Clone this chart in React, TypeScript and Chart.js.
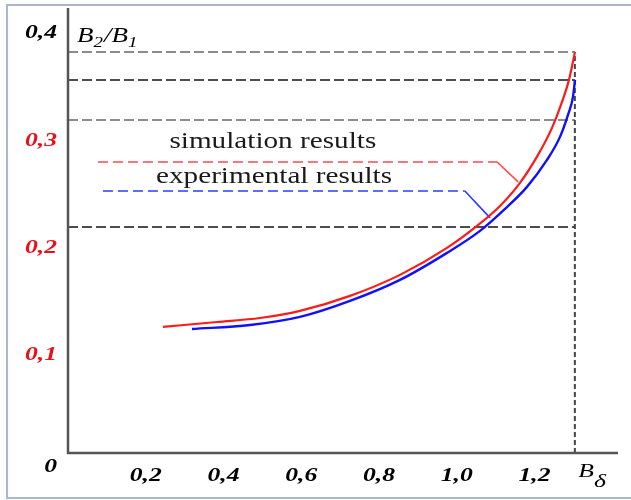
import React, { useEffect, useRef } from "react";
import { Chart, registerables } from "chart.js";

Chart.register(...registerables);

// ---- data ----
const xTickValues = [0.2, 0.4, 0.6, 0.8, 1.0, 1.2];
const xTickLabels = ["0,2", "0,4", "0,6", "0,8", "1,0", "1,2"];
const yTickValues = [0, 0.1, 0.2, 0.3, 0.4];
const yTickLabels = ["0", "0,1", "0,2", "0,3", "0,4"];
const yTickColors = ["#000000", "#e8101a", "#e8101a", "#e8101a", "#000000"];

const simX = [0.2444, 0.3833, 0.494, 0.5969, 0.7255, 0.8541, 0.9751, 1.0522, 1.1114, 1.1629, 1.2092, 1.2452, 1.2709, 1.2889, 1.3044];
const simY = [0.1265, 0.1311, 0.1348, 0.1414, 0.1554, 0.175, 0.2001, 0.2206, 0.2392, 0.2607, 0.2868, 0.312, 0.3362, 0.3567, 0.3828];
const expX = [0.319, 0.4682, 0.5969, 0.7255, 0.8541, 0.9751, 1.06, 1.1243, 1.1809, 1.2323, 1.2658, 1.2863, 1.2992, 1.3044];
const expY = [0.1246, 0.1283, 0.1358, 0.1507, 0.1703, 0.1955, 0.216, 0.2365, 0.257, 0.2821, 0.3036, 0.3241, 0.3409, 0.3567];

const refLevels = [0.3828, 0.3567, 0.3194, 0.2197];
const refColors = ["#8c8c8c", "#4d4d4d", "#8c8c8c", "#4d4d4d"];
const refEndX = 1.304;

const simLeaderX = [0.077, 1.104, 1.158];
const simLeaderY = [0.2802, 0.2802, 0.2616];
const expLeaderX = [0.09, 1.021, 1.086];
const expLeaderY = [0.2532, 0.2532, 0.2281];

const legendTexts = ["simulation results", "experimental results"];
const legendX = [0.527, 0.53];
const legendY = [0.2933, 0.2607];

const xMin = 0;
const xMax = 1.415;
const yMin = 0.009;
const yMax = 0.4237;

const pts = (xs: number[], ys: number[]) => xs.map((x, i) => ({ x, y: ys[i] }));

function stretchText(ctx: CanvasRenderingContext2D, text: string, x: number, y: number, sx: number, align: CanvasTextAlign) {
  ctx.save();
  ctx.translate(x, y);
  ctx.scale(sx, 1);
  ctx.textAlign = align;
  ctx.fillText(text, 0, 0);
  ctx.restore();
}

const SERIF = "'Liberation Serif', 'Times New Roman', serif";

const decorPlugin = {
  id: "decor",
  beforeDatasetsDraw(chart: any) {
    const { ctx } = chart;
    ctx.save();
    ctx.strokeStyle = "#a9b7cf";
    ctx.lineWidth = 2;
    ctx.strokeRect(7, 5, 660, 493);
    ctx.restore();
  },
  afterDatasetsDraw(chart: any) {
    const { ctx, chartArea, scales } = chart;
    const xs = scales.x;
    const ys = scales.y;
    ctx.save();
    // axes
    ctx.strokeStyle = "#555555";
    ctx.lineWidth = 2.5;
    ctx.beginPath();
    ctx.moveTo(chartArea.left, chartArea.top);
    ctx.lineTo(chartArea.left, chartArea.bottom);
    ctx.lineTo(chartArea.right, chartArea.bottom);
    ctx.stroke();

    // x tick labels
    ctx.fillStyle = "#000";
    ctx.textBaseline = "middle";
    ctx.font = `bold italic 19px ${SERIF}`;
    xTickValues.forEach((v, i) => {
      stretchText(ctx, xTickLabels[i], xs.getPixelForValue(v), chartArea.bottom + 23, 1.35, "center");
    });
    // y tick labels
    yTickValues.forEach((v, i) => {
      ctx.fillStyle = yTickColors[i];
      stretchText(ctx, yTickLabels[i], chartArea.left - 11, ys.getPixelForValue(v) + (i === 0 ? 4 : 0), 1.35, "right");
    });

    // axis titles
    ctx.fillStyle = "#000";
    ctx.textBaseline = "alphabetic";
    const drawTitle = (parts: { t: string; size: number; dy: number }[], x: number, y: number) => {
      let cx = x;
      parts.forEach((p) => {
        ctx.font = `italic ${p.size}px ${SERIF}`;
        const w = ctx.measureText(p.t).width * 1.35;
        stretchText(ctx, p.t, cx, y + p.dy, 1.35, "left");
        cx += w + (p.dy ? 1 : 0);
      });
    };
    drawTitle(
      [
        { t: "B", size: 20, dy: 0 },
        { t: "2", size: 14, dy: 5 },
        { t: "/", size: 20, dy: 0 },
        { t: "B", size: 20, dy: 0 },
        { t: "1", size: 14, dy: 5 },
      ],
      chartArea.left + 9,
      chartArea.top + 34
    );
    drawTitle(
      [
        { t: "B", size: 19, dy: 0 },
        { t: "δ", size: 19, dy: 10 },
      ],
      xs.getPixelForValue(1.3) + 5,
      chartArea.bottom + 24
    );

    // legend texts
    ctx.font = `23px ${SERIF}`;
    ctx.fillStyle = "#1a1a1a";
    legendTexts.forEach((t, i) => {
      stretchText(ctx, t, xs.getPixelForValue(legendX[i]), ys.getPixelForValue(legendY[i]), 1.27, "center");
    });
    ctx.restore();
  },
};

export default function App() {
  const ref = useRef<HTMLCanvasElement | null>(null);
  useEffect(() => {
    if (!ref.current) return;
    const refSets = refLevels.map((lv, i) => ({
      data: pts([0, refEndX], [lv, lv]),
      borderColor: refColors[i],
      borderWidth: 2,
      borderDash: [10, 4],
      pointRadius: 0,
      order: 5,
    }));
    const chart = new Chart(ref.current, {
      type: "line",
      data: {
        datasets: [
          {
            data: pts(simX, simY),
            borderColor: "#ff1a1a",
            borderWidth: 2.2,
            pointRadius: 0,
            cubicInterpolationMode: "monotone",
            order: 0,
          },
          {
            data: pts(expX, expY),
            borderColor: "#1010ff",
            borderWidth: 2.4,
            pointRadius: 0,
            cubicInterpolationMode: "monotone",
            order: 1,
          },
          {
            data: pts(simLeaderX, simLeaderY),
            borderColor: "#ff4a4a",
            borderWidth: 1.6,
            pointRadius: 0,
            segment: { borderDash: (c: any) => (c.p0DataIndex === 0 ? [10, 5] : []) },
            order: 2,
          },
          {
            data: pts(expLeaderX, expLeaderY),
            borderColor: "#2a3cff",
            borderWidth: 1.6,
            pointRadius: 0,
            segment: { borderDash: (c: any) => (c.p0DataIndex === 0 ? [10, 5] : []) },
            order: 2,
          },
          ...refSets,
          {
            data: pts([refEndX, refEndX], [yMin, refLevels[0]]),
            borderColor: "#444444",
            borderWidth: 2,
            borderDash: [5, 3],
            pointRadius: 0,
            order: 4,
          },
        ] as any,
      },
      options: {
        animation: false,
        responsive: false,
        devicePixelRatio: 1,
        layout: { padding: { left: 68, top: 8, right: 13, bottom: 47 } },
        plugins: { legend: { display: false }, tooltip: { enabled: false } },
        scales: {
          x: { type: "linear", min: xMin, max: xMax, display: false },
          y: { type: "linear", min: yMin, max: yMax, display: false },
        },
        elements: { line: { tension: 0 } },
      } as any,
      plugins: [decorPlugin],
    });
    return () => chart.destroy();
  }, []);
  return (
    <div style={{ position: "fixed", left: 0, top: 0, width: 631, height: 500, background: "#fff" }}>
      <canvas ref={ref} width={631} height={500} style={{ display: "block", width: 631, height: 500 }} />
    </div>
  );
}
